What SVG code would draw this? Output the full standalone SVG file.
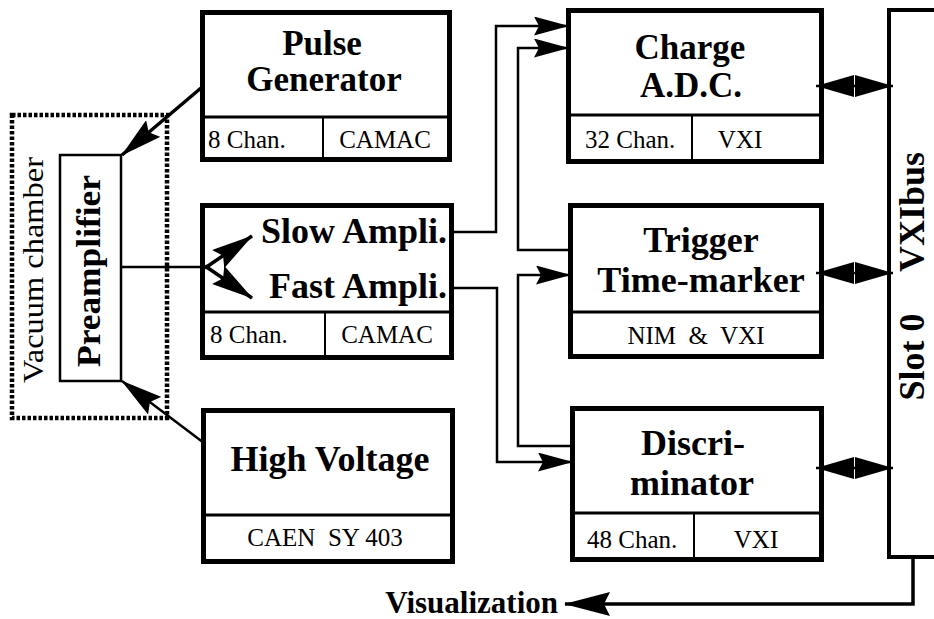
<svg xmlns="http://www.w3.org/2000/svg" width="934" height="619" viewBox="0 0 934 619">
  <style>
    .box { fill: #fff; stroke: #000; stroke-width: 5; }
    .sep { stroke: #000; stroke-width: 3; fill: none; }
    .cell { stroke: #000; stroke-width: 2; fill: none; }
    .wire { fill: none; stroke: #000; stroke-width: 2.5; }
    .fat { fill: none; stroke: #000; stroke-width: 3.5; }
    .title { font-family: "Liberation Serif", "Times New Roman", serif; font-weight: bold; font-size: 36px; fill: #000; }
    .pair { font-size: 35px; }
    .info { font-family: "Liberation Serif", "Times New Roman", serif; font-size: 25px; fill: #000; }
    .vac { font-family: "Liberation Serif", "Times New Roman", serif; font-size: 29px; fill: #000; }
    .mid { text-anchor: middle; }
    .end { text-anchor: end; }
  </style>
  <defs>
    <marker id="arr" markerUnits="userSpaceOnUse" viewBox="0 0 35 19" markerWidth="35" markerHeight="19" refX="34" refY="9.5" orient="auto-start-reverse">
      <path d="M0,0 L35,9.5 L0,19 L5,9.5 z" fill="#000"/>
    </marker>
    <marker id="slant" markerUnits="userSpaceOnUse" viewBox="0 0 42 22" markerWidth="42" markerHeight="22" refX="41" refY="11" orient="auto-start-reverse">
      <path d="M0,0 L42,11 L0,22 L6,11 z" fill="#000"/>
    </marker>
    <marker id="bus" markerUnits="userSpaceOnUse" viewBox="0 0 38 22" markerWidth="38" markerHeight="22" refX="38" refY="11" orient="auto-start-reverse">
      <path d="M0,0 L38,11 L0,22 z" fill="#000"/>
    </marker>
    <marker id="out" markerUnits="userSpaceOnUse" viewBox="0 0 46 24" markerWidth="46" markerHeight="24" refX="45" refY="12" orient="auto-start-reverse">
      <path d="M0,0 L46,12 L0,24 L6,12 z" fill="#000"/>
    </marker>
  </defs>

  <!-- Vacuum chamber enclosure -->
  <g id="vacuum-chamber">
    <rect x="12" y="115" width="155" height="303" fill="none" stroke="#000" stroke-width="4.5" stroke-dasharray="3.5 2"/>
    <text class="vac mid" transform="translate(43,270) rotate(-90)" textLength="226" lengthAdjust="spacingAndGlyphs">Vacuum chamber</text>
  </g>

  <g id="preamplifier">
    <rect x="60" y="155" width="61" height="226" fill="#fff" stroke="#000" stroke-width="2.5"/>
    <text class="title mid" transform="translate(100,271) rotate(-90)" style="font-size:34px" textLength="192" lengthAdjust="spacingAndGlyphs">Preamplifier</text>
  </g>

  <g id="pulse-generator">
    <rect class="box" x="202.5" y="12.5" width="247" height="147"/>
    <line class="sep" x1="202.5" y1="117" x2="449.5" y2="117"/>
    <line class="cell" x1="323" y1="117" x2="323" y2="159.5"/>
    <text class="title pair mid" x="322" y="55">Pulse</text>
    <text class="title pair mid" x="324" y="91">Generator</text>
    <text class="info" x="208" y="148">8 Chan.</text>
    <text class="info mid" x="385" y="148">CAMAC</text>
  </g>

  <g id="amplifiers">
    <rect class="box" x="202.5" y="205.5" width="249" height="152"/>
    <line class="sep" x1="202.5" y1="312" x2="451.5" y2="312"/>
    <line class="cell" x1="325" y1="312" x2="325" y2="357.5"/>
    <text class="title end" x="447" y="243">Slow Ampli.</text>
    <text class="title end" x="447" y="298">Fast Ampli.</text>
    <text class="info" x="210" y="343">8 Chan.</text>
    <text class="info mid" x="387" y="343">CAMAC</text>
  </g>

  <g id="high-voltage">
    <rect class="box" x="203.5" y="410.5" width="249" height="151"/>
    <line class="sep" x1="203.5" y1="515" x2="452.5" y2="515"/>
    <text class="title mid" x="330" y="471">High Voltage</text>
    <text class="info mid" x="325" y="546" xml:space="preserve">CAEN  SY 403</text>
  </g>

  <g id="charge-adc">
    <rect class="box" x="568.5" y="10.5" width="253" height="151"/>
    <line class="sep" x1="568.5" y1="115" x2="821.5" y2="115"/>
    <line class="cell" x1="692" y1="115" x2="692" y2="161.5"/>
    <text class="title pair mid" x="690" y="59">Charge</text>
    <text class="title pair mid" x="691" y="97">A.D.C.</text>
    <text class="info" x="585" y="148">32 Chan.</text>
    <text class="info mid" x="740" y="148">VXI</text>
  </g>

  <g id="trigger">
    <rect class="box" x="570.5" y="205.5" width="251" height="151"/>
    <line class="sep" x1="570.5" y1="312" x2="821.5" y2="312"/>
    <text class="title mid" x="701" y="252">Trigger</text>
    <text class="title mid" x="701" y="292">Time-marker</text>
    <text class="info mid" x="696" y="344" xml:space="preserve">NIM  &amp;  VXI</text>
  </g>

  <g id="discriminator">
    <rect class="box" x="572.5" y="408.5" width="249" height="151"/>
    <line class="sep" x1="572.5" y1="513" x2="821.5" y2="513"/>
    <line class="cell" x1="694" y1="513" x2="694" y2="559.5"/>
    <text class="title mid" x="693" y="455">Discri-</text>
    <text class="title mid" x="692" y="495">minator</text>
    <text class="info" x="587" y="548">48 Chan.</text>
    <text class="info mid" x="756" y="548">VXI</text>
  </g>

  <g id="vxibus">
    <path d="M934,10 H889 V557 H934" fill="none" stroke="#000" stroke-width="4"/>
    <text class="title mid" transform="translate(924,212) rotate(-90)">VXIbus</text>
    <text class="title mid" transform="translate(924,357) rotate(-90)">Slot 0</text>
  </g>

  <g id="visualization">
    <text class="title end" x="558" y="613" style="font-size:31px">Visualization</text>
  </g>

  <g id="connectors">
    <!-- pulser and high voltage into the preamplifier -->
    <line class="fat" x1="201" y1="88" x2="122" y2="155" marker-end="url(#slant)"/>
    <line class="wire" x1="204" y1="443" x2="122" y2="381" marker-end="url(#slant)"/>
    <!-- preamplifier split to slow / fast shaping -->
    <line class="wire" x1="121" y1="267" x2="206" y2="267"/>
    <line class="fat" x1="205" y1="268" x2="252" y2="236" marker-end="url(#slant)"/>
    <line class="fat" x1="205" y1="266" x2="252" y2="298" marker-end="url(#slant)"/>
    <!-- slow amplifier to ADC -->
    <polyline class="wire" points="452,232 496,232 496,26 568,26" marker-end="url(#arr)"/>
    <!-- fast amplifier to discriminator -->
    <polyline class="wire" points="452,288 497,288 497,462 572,462" marker-end="url(#arr)"/>
    <!-- trigger gate to ADC -->
    <polyline class="wire" points="570,250 518,250 518,48 568,48" marker-end="url(#arr)"/>
    <!-- discriminator output to trigger -->
    <polyline class="wire" points="572,446 518,446 518,275 570,275" marker-end="url(#arr)"/>
    <!-- bus links -->
    <line class="wire" x1="816" y1="86" x2="893" y2="86" marker-start="url(#bus)" marker-end="url(#bus)"/>
    <line class="wire" x1="816" y1="273" x2="893" y2="273" marker-start="url(#bus)" marker-end="url(#bus)"/>
    <line class="wire" x1="816" y1="468" x2="893" y2="468" marker-start="url(#bus)" marker-end="url(#bus)"/>
    <!-- readout to display -->
    <polyline fill="none" stroke="#000" stroke-width="3.5" points="913,557 913,604 565,604" marker-end="url(#out)"/>
  </g>
</svg>
